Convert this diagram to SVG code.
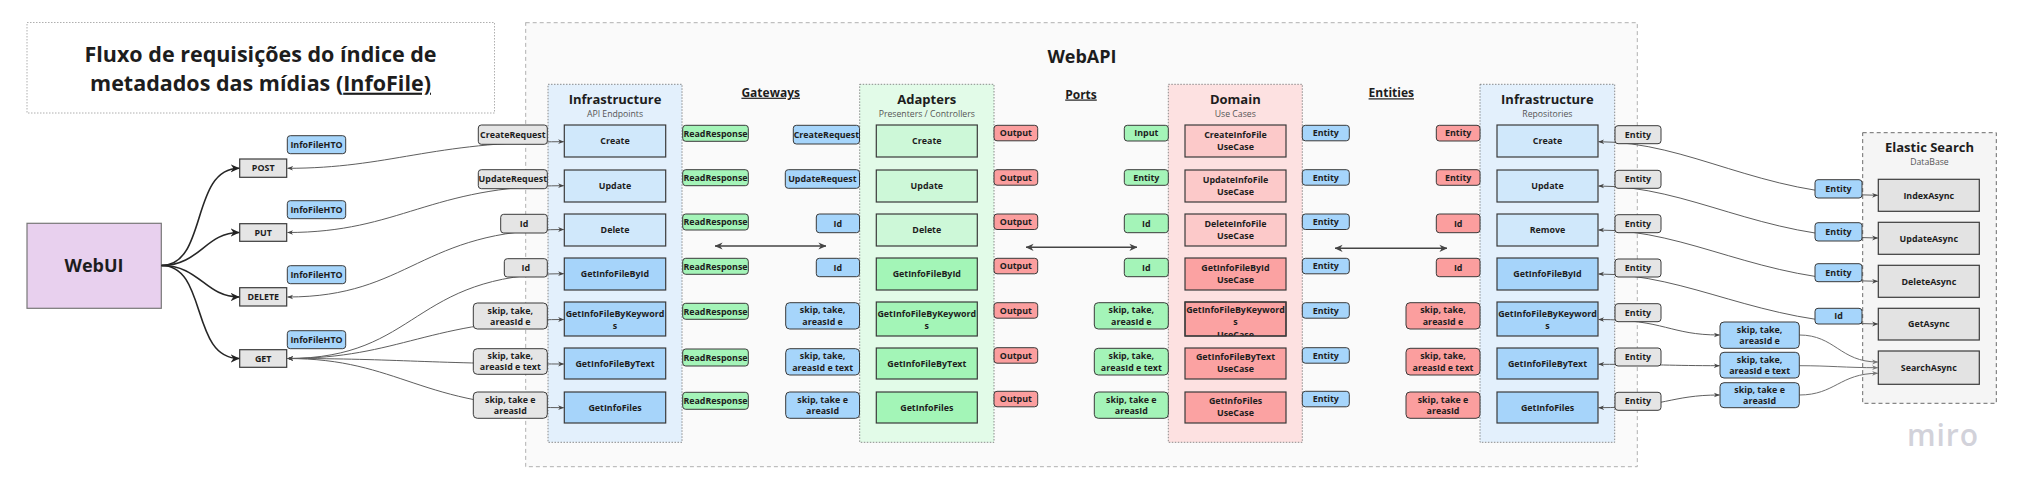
<svg xmlns="http://www.w3.org/2000/svg" width="2022" height="494" viewBox="0 0 2022 494">
<style>
text{font-family:"Open Sans","Noto Sans","Liberation Sans",sans-serif;fill:#1d1d1d}
.t{font-size:8.9px;font-weight:700;text-anchor:middle}
.h{font-size:13px;font-weight:700;text-anchor:middle}
.s{font-size:8.7px;font-weight:400;text-anchor:middle;fill:#555}
.sec{font-size:12px;font-weight:700;text-anchor:middle;text-decoration:underline}
.ttl{font-size:21.5px;font-weight:700;text-anchor:middle}
.cont{stroke:#707070;stroke-width:.8;stroke-dasharray:1.5 1.5}
.box{stroke:#3a3a3a;stroke-width:1.2}
.lb{stroke:#3a3a3a;stroke-width:1}
.gy{fill:#e5e5e5}.bl{fill:#a6d5fb}.gr{fill:#a4f4b8}.rd{fill:#fb9e9e}
.bl1{fill:#d0e8fb}.gr1{fill:#cdf8d8}.rd1{fill:#fcc9c9}
.bl2{fill:#a6d4fa}.gr2{fill:#a3f5b7}.rd2{fill:#fba2a2}
.cn{fill:none;stroke:#5e5e5e;stroke-width:1;marker-start:url(#ah);marker-end:url(#ah)}
.cn1{fill:none;stroke:#6e6e6e;stroke-width:1;marker-end:url(#ah2)}
.dk{fill:none;stroke:#262626;stroke-width:1.6;marker-end:url(#ahd)}
.dbl{fill:none;stroke:#444;stroke-width:1.4;marker-start:url(#ahb);marker-end:url(#ahb)}
</style>
<defs>
<marker id="ah" viewBox="0 0 10 10" refX="9.5" refY="5" markerWidth="6" markerHeight="6" markerUnits="userSpaceOnUse" orient="auto-start-reverse"><path d="M0,1 L10,5 L0,9 L3,5 z" fill="#444"/></marker>
<marker id="ah2" viewBox="0 0 10 10" refX="9.5" refY="5" markerWidth="6" markerHeight="6" markerUnits="userSpaceOnUse" orient="auto-start-reverse"><path d="M0,1 L10,5 L0,9 L3,5 z" fill="#777"/></marker>
<marker id="ahd" viewBox="0 0 10 10" refX="9.5" refY="5" markerWidth="9" markerHeight="9" markerUnits="userSpaceOnUse" orient="auto-start-reverse"><path d="M0,0.5 L10,5 L0,9.5 L3,5 z" fill="#222"/></marker>
<marker id="ahb" viewBox="0 0 10 10" refX="9.5" refY="5" markerWidth="8" markerHeight="8" markerUnits="userSpaceOnUse" orient="auto-start-reverse"><path d="M0,0.5 L10,5 L0,9.5 L3,5 z" fill="#444"/></marker>
<clipPath id="clipKw"><rect x="1185" y="302" width="101" height="34"/></clipPath>
</defs>
<rect width="2022" height="494" fill="#fff"/>

<g id="title">
<rect x="27" y="22.5" width="467.5" height="90.5" fill="#fff" stroke="#9a9a9a" stroke-width=".8" stroke-dasharray="1.5 1.5"/>
<text x="260.5" y="61.7" class="ttl">Fluxo de requisições do índice de</text>
<text x="260.5" y="90.7" class="ttl">metadados das mídias (<tspan text-decoration="underline">InfoFile)</tspan></text>
</g>

<g id="webapi">
<rect x="525.7" y="22.7" width="1111.6" height="444" fill="#fafafa" stroke="#a8a8a8" stroke-width=".9" stroke-dasharray="4 3"/>
<text x="1082" y="63" style="font-size:18px;font-weight:700;text-anchor:middle">WebAPI</text>
<text x="770.7" y="96.7" class="sec">Gateways</text>
<text x="1081" y="98.5" class="sec">Ports</text>
<text x="1391.3" y="97.3" class="sec">Entities</text>
</g>

<g id="webui"><rect x="27" y="223.3" width="134.3" height="85" fill="#e8d0ee" stroke="#777" stroke-width="1.2"/><text x="94" y="272.3" style="font-size:18px;font-weight:700;text-anchor:middle">WebUI</text></g>

<g id="methods">
<g id="post"><rect x="239.7" y="159" width="47" height="18.3" class="box gy"/><text x="263.2" y="171.4" class="t">POST</text></g>
<g id="put"><rect x="239.7" y="223.7" width="47" height="17.6" class="box gy"/><text x="263.2" y="235.7" class="t">PUT</text></g>
<g id="delete"><rect x="239.7" y="287.7" width="47" height="18.3" class="box gy"/><text x="263.2" y="300.1" class="t">DELETE</text></g>
<g id="get"><rect x="239.7" y="349.7" width="47" height="17.6" class="box gy"/><text x="263.2" y="361.7" class="t">GET</text></g>
<g id="hto1"><rect x="287.3" y="135.7" width="58.4" height="18" rx="3" class="lb bl"/><text x="316.5" y="147.9" class="t">InfoFileHTO</text></g>
<g id="hto2"><rect x="287.3" y="200.7" width="58.4" height="18" rx="3" class="lb bl"/><text x="316.5" y="212.9" class="t">InfoFileHTO</text></g>
<g id="hto3"><rect x="287.3" y="265.7" width="58.4" height="18" rx="3" class="lb bl"/><text x="316.5" y="277.9" class="t">InfoFileHTO</text></g>
<g id="hto4"><rect x="287.3" y="330.7" width="58.4" height="18" rx="3" class="lb bl"/><text x="316.5" y="342.9" class="t">InfoFileHTO</text></g>
</g>

<g id="infra-api">
<rect x="548" y="84.3" width="134" height="358" class="cont" fill="#e3f0fc"/>
<text x="615" y="103.7" class="h">Infrastructure</text><text x="615" y="117.3" class="s">API Endpoints</text>
<rect x="564.3" y="125" width="101.4" height="32" class="box bl1"/><text x="615" y="144.2" class="t">Create</text>
<rect x="564.3" y="170" width="101.4" height="32" class="box bl1"/><text x="615" y="189.2" class="t">Update</text>
<rect x="564.3" y="214" width="101.4" height="32" class="box bl1"/><text x="615" y="233.2" class="t">Delete</text>
<rect x="564.3" y="258" width="101.4" height="32" class="box bl2"/><text x="615" y="277.2" class="t">GetInfoFileById</text>
<rect x="564.3" y="302" width="101.4" height="34" class="box bl2"/><text x="615" y="317.3" class="t">GetInfoFileByKeyword</text><text x="615" y="328.5" class="t">s</text>
<rect x="564.3" y="348" width="101.4" height="31" class="box bl2"/><text x="615" y="366.7" class="t">GetInfoFileByText</text>
<rect x="564.3" y="392" width="101.4" height="31" class="box bl2"/><text x="615" y="410.7" class="t">GetInfoFiles</text>
</g>

<g id="adapters">
<rect x="859.7" y="84.3" width="134.3" height="358" class="cont" fill="#e2fbe8"/>
<text x="926.8" y="103.7" class="h">Adapters</text><text x="926.8" y="117.3" class="s">Presenters / Controllers</text>
<rect x="876.3" y="125" width="101" height="32" class="box gr1"/><text x="926.8" y="144.2" class="t">Create</text>
<rect x="876.3" y="170" width="101" height="32" class="box gr1"/><text x="926.8" y="189.2" class="t">Update</text>
<rect x="876.3" y="214" width="101" height="32" class="box gr1"/><text x="926.8" y="233.2" class="t">Delete</text>
<rect x="876.3" y="258" width="101" height="32" class="box gr2"/><text x="926.8" y="277.2" class="t">GetInfoFileById</text>
<rect x="876.3" y="302" width="101" height="34" class="box gr2"/><text x="926.8" y="317.3" class="t">GetInfoFileByKeyword</text><text x="926.8" y="328.5" class="t">s</text>
<rect x="876.3" y="348" width="101" height="31" class="box gr2"/><text x="926.8" y="366.7" class="t">GetInfoFileByText</text>
<rect x="876.3" y="392" width="101" height="31" class="box gr2"/><text x="926.8" y="410.7" class="t">GetInfoFiles</text>
</g>

<g id="domain">
<rect x="1168.3" y="84.3" width="134" height="358" class="cont" fill="#fde1e1"/>
<text x="1235.3" y="103.7" class="h">Domain</text><text x="1235.3" y="117.3" class="s">Use Cases</text>
<rect x="1185" y="125" width="101" height="32" class="box rd1"/><text x="1235.5" y="137.5" class="t">CreateInfoFile</text><text x="1235.5" y="150" class="t">UseCase</text>
<rect x="1185" y="170" width="101" height="32" class="box rd1"/><text x="1235.5" y="182.5" class="t">UpdateInfoFile</text><text x="1235.5" y="195" class="t">UseCase</text>
<rect x="1185" y="214" width="101" height="32" class="box rd1"/><text x="1235.5" y="226.5" class="t">DeleteInfoFile</text><text x="1235.5" y="239" class="t">UseCase</text>
<rect x="1185" y="258" width="101" height="32" class="box rd2"/><text x="1235.5" y="270.5" class="t">GetInfoFileById</text><text x="1235.5" y="283" class="t">UseCase</text>
<rect x="1185" y="302" width="101" height="34" class="box rd2"/>
<g clip-path="url(#clipKw)"><text x="1235.5" y="313.3" class="t">GetInfoFileByKeyword</text><text x="1235.5" y="324.5" class="t">s</text><text x="1235.5" y="337.5" class="t">UseCase</text></g>
<rect x="1185" y="302" width="101" height="34" fill="none" class="box"/>
<rect x="1185" y="348" width="101" height="31" class="box rd2"/><text x="1235.5" y="360" class="t">GetInfoFileByText</text><text x="1235.5" y="372.3" class="t">UseCase</text>
<rect x="1185" y="392" width="101" height="31" class="box rd2"/><text x="1235.5" y="404" class="t">GetInfoFiles</text><text x="1235.5" y="416.3" class="t">UseCase</text>
</g>

<g id="infra-repos">
<rect x="1480" y="84.3" width="134.7" height="358" class="cont" fill="#e3f0fc"/>
<text x="1547.4" y="103.7" class="h">Infrastructure</text><text x="1547.4" y="117.3" class="s">Repositories</text>
<rect x="1497" y="125" width="101" height="32" class="box bl1"/><text x="1547.5" y="144.2" class="t">Create</text>
<rect x="1497" y="170" width="101" height="32" class="box bl1"/><text x="1547.5" y="189.2" class="t">Update</text>
<rect x="1497" y="214" width="101" height="32" class="box bl1"/><text x="1547.5" y="233.2" class="t">Remove</text>
<rect x="1497" y="258" width="101" height="32" class="box bl2"/><text x="1547.5" y="277.2" class="t">GetInfoFileById</text>
<rect x="1497" y="302" width="101" height="34" class="box bl2"/><text x="1547.5" y="317.3" class="t">GetInfoFileByKeyword</text><text x="1547.5" y="328.5" class="t">s</text>
<rect x="1497" y="348" width="101" height="31" class="box bl2"/><text x="1547.5" y="366.7" class="t">GetInfoFileByText</text>
<rect x="1497" y="392" width="101" height="31" class="box bl2"/><text x="1547.5" y="410.7" class="t">GetInfoFiles</text>
</g>

<g id="elastic">
<rect x="1862.7" y="132.7" width="133.6" height="270.6" fill="#f5f5f5" stroke="#6a6a6a" stroke-width="1" stroke-dasharray="4 3"/>
<text x="1929.5" y="151.7" class="h">Elastic Search</text><text x="1929.5" y="165.3" class="s">DataBase</text>
<rect x="1878.3" y="179.3" width="101" height="32" class="box" fill="#e3e3e3"/><text x="1928.8" y="198.5" class="t">IndexAsync</text>
<rect x="1878.3" y="222.3" width="101" height="32" class="box" fill="#e3e3e3"/><text x="1928.8" y="241.5" class="t">UpdateAsync</text>
<rect x="1878.3" y="265.3" width="101" height="32" class="box" fill="#e3e3e3"/><text x="1928.8" y="284.5" class="t">DeleteAsync</text>
<rect x="1878.3" y="308.3" width="101" height="31.7" class="box" fill="#e3e3e3"/><text x="1928.8" y="327.3" class="t">GetAsync</text>
<rect x="1878.3" y="351" width="101" height="33.3" class="box" fill="#e3e3e3"/><text x="1928.8" y="370.8" class="t">SearchAsync</text>
</g>

<g id="connectors">
<path class="dk" d="M161.5,265.5 C208,265.5 190,168.3 239.2,168.3"/>
<path class="dk" d="M161.5,265.5 C200,265.5 205,232.5 239.2,232.5"/>
<path class="dk" d="M161.5,265.5 C200,265.5 205,297 239.2,297"/>
<path class="dk" d="M161.5,265.5 C208,265.5 190,358.5 239.2,358.5"/>
<path class="cn" d="M287.5,168.3 C390,168.3 430,141.7 563.8,141.7"/>
<path class="cn" d="M287.5,232.5 C400,232.5 430,185.7 563.8,185.7"/>
<path class="cn" d="M287.5,297 C410,297 420,229.5 563.8,229.5"/>
<path class="cn" d="M287.5,358.5 C420,358.5 410,273.7 563.8,273.7"/>
<path class="cn" d="M287.5,358.5 C400,358.5 430,319.5 563.8,319.5"/>
<path class="cn" d="M287.5,358.5 C400,358.5 430,364 563.8,364"/>
<path class="cn" d="M287.5,358.5 C400,358.5 420,407.7 563.8,407.7"/>
<path class="dbl" d="M715,246 L826,246"/>
<path class="dbl" d="M1026,247.3 L1137,247.3"/>
<path class="dbl" d="M1335,248.3 L1447,248.3"/>
<path class="cn" d="M1598.5,141.7 C1690,141.7 1760,195.3 1877.8,195.3"/>
<path class="cn" d="M1598.5,186 C1690,186 1760,238 1877.8,238"/>
<path class="cn" d="M1598.5,230 C1690,230 1760,281.3 1877.8,281.3"/>
<path class="cn" d="M1598.5,274 C1690,274 1760,324 1877.8,324"/>
<path class="cn" d="M1598.5,319.5 C1665,319.5 1670,335 1719.5,335"/>
<path class="cn" d="M1598.5,364.3 C1660,364.3 1670,365.7 1719.5,365.7"/>
<path class="cn" d="M1598.5,407.7 C1665,407.7 1670,395 1719.5,395"/>
<path class="cn1" d="M1799.3,335 C1835,335 1840,362 1877.8,362"/>
<path class="cn1" d="M1799.3,365.7 C1830,365.7 1845,367.7 1877.8,367.7"/>
<path class="cn1" d="M1799.3,395 C1835,395 1840,373.3 1877.8,373.3"/>
</g>

<g id="labels-requests">
<rect x="478.3" y="125" width="69" height="19.3" rx="3" class="lb gy"/><text x="512.8" y="137.9" class="t">CreateRequest</text>
<rect x="478.3" y="169.7" width="69" height="19" rx="3" class="lb gy"/><text x="512.8" y="182.4" class="t">UpdateRequest</text>
<rect x="500.7" y="214.3" width="46.6" height="18.7" rx="3" class="lb gy"/><text x="524" y="226.9" class="t">Id</text>
<rect x="504.3" y="258.7" width="43" height="18.3" rx="3" class="lb gy"/><text x="525.8" y="271" class="t">Id</text>
<rect x="473.3" y="303" width="74" height="26" rx="4" class="lb gy"/><text x="510.3" y="313.6" class="t">skip, take,</text><text x="510.3" y="324.9" class="t">areasId e</text>
<rect x="473.3" y="348.7" width="74" height="25.6" rx="4" class="lb gy"/><text x="510.3" y="359.1" class="t">skip, take,</text><text x="510.3" y="370.4" class="t">areasId e text</text>
<rect x="473.3" y="392" width="74" height="26.3" rx="4" class="lb gy"/><text x="510.3" y="402.8" class="t">skip, take e</text><text x="510.3" y="414.1" class="t">areasId</text>
</g>

<g id="labels-readresponse">
<rect x="682.7" y="125.3" width="65.6" height="16" rx="3" class="lb gr"/><text x="715.5" y="136.5" class="t">ReadResponse</text>
<rect x="682.7" y="169.7" width="65.6" height="16" rx="3" class="lb gr"/><text x="715.5" y="180.9" class="t">ReadResponse</text>
<rect x="682.7" y="214" width="65.6" height="16" rx="3" class="lb gr"/><text x="715.5" y="225.2" class="t">ReadResponse</text>
<rect x="682.7" y="258.3" width="65.6" height="16" rx="3" class="lb gr"/><text x="715.5" y="269.5" class="t">ReadResponse</text>
<rect x="682.7" y="303.3" width="65.6" height="16" rx="3" class="lb gr"/><text x="715.5" y="314.5" class="t">ReadResponse</text>
<rect x="682.7" y="349" width="65.6" height="17" rx="3" class="lb gr"/><text x="715.5" y="360.7" class="t">ReadResponse</text>
<rect x="682.7" y="392.3" width="65.6" height="17" rx="3" class="lb gr"/><text x="715.5" y="404" class="t">ReadResponse</text>
</g>

<g id="labels-adapters-in">
<rect x="793.3" y="125.3" width="66.2" height="18.7" rx="3" class="lb bl"/><text x="826.4" y="137.9" class="t">CreateRequest</text>
<rect x="785.3" y="169.7" width="74.2" height="18.6" rx="3" class="lb bl"/><text x="822.4" y="182.2" class="t">UpdateRequest</text>
<rect x="816.3" y="214" width="43.2" height="18.7" rx="3" class="lb bl"/><text x="837.9" y="226.6" class="t">Id</text>
<rect x="816.3" y="258.3" width="43.2" height="18.4" rx="3" class="lb bl"/><text x="837.9" y="270.7" class="t">Id</text>
<rect x="785.7" y="302.7" width="73.8" height="26.3" rx="4" class="lb bl"/><text x="822.6" y="313.4" class="t">skip, take,</text><text x="822.6" y="324.7" class="t">areasId e</text>
<rect x="785.7" y="348.7" width="73.8" height="26.3" rx="4" class="lb bl"/><text x="822.6" y="359.4" class="t">skip, take,</text><text x="822.6" y="370.7" class="t">areasId e text</text>
<rect x="785.7" y="392" width="73.8" height="26.3" rx="4" class="lb bl"/><text x="822.6" y="402.7" class="t">skip, take e</text><text x="822.6" y="414" class="t">areasId</text>
</g>

<g id="labels-output">
<rect x="994" y="125.3" width="43.7" height="15.5" rx="3" class="lb rd"/><text x="1015.9" y="136.3" class="t">Output</text>
<rect x="994" y="169.7" width="43.7" height="15.5" rx="3" class="lb rd"/><text x="1015.9" y="180.7" class="t">Output</text>
<rect x="994" y="214" width="43.7" height="15.5" rx="3" class="lb rd"/><text x="1015.9" y="225" class="t">Output</text>
<rect x="994" y="258.3" width="43.7" height="15.5" rx="3" class="lb rd"/><text x="1015.9" y="269.3" class="t">Output</text>
<rect x="994" y="302.7" width="43.7" height="15.5" rx="3" class="lb rd"/><text x="1015.9" y="313.7" class="t">Output</text>
<rect x="994" y="347.7" width="43.7" height="15.5" rx="3" class="lb rd"/><text x="1015.9" y="358.7" class="t">Output</text>
<rect x="994" y="391.3" width="43.7" height="15.5" rx="3" class="lb rd"/><text x="1015.9" y="402.3" class="t">Output</text>
</g>

<g id="labels-domain-in">
<rect x="1124.3" y="125.3" width="44" height="15.7" rx="3" class="lb gr"/><text x="1146.3" y="136.4" class="t">Input</text>
<rect x="1124.3" y="169.7" width="44" height="15.6" rx="3" class="lb gr"/><text x="1146.3" y="180.7" class="t">Entity</text>
<rect x="1124.3" y="214" width="44" height="18.7" rx="3" class="lb gr"/><text x="1146.3" y="226.6" class="t">Id</text>
<rect x="1124.3" y="258.3" width="44" height="18.4" rx="3" class="lb gr"/><text x="1146.3" y="270.7" class="t">Id</text>
<rect x="1094.3" y="302.7" width="74" height="26.3" rx="4" class="lb gr"/><text x="1131.3" y="313.4" class="t">skip, take,</text><text x="1131.3" y="324.7" class="t">areasId e</text>
<rect x="1094.3" y="348.3" width="74" height="26.7" rx="4" class="lb gr"/><text x="1131.3" y="359.2" class="t">skip, take,</text><text x="1131.3" y="370.5" class="t">areasId e text</text>
<rect x="1094.3" y="392" width="74" height="26.3" rx="4" class="lb gr"/><text x="1131.3" y="402.7" class="t">skip, take e</text><text x="1131.3" y="414" class="t">areasId</text>
</g>

<g id="labels-domain-out">
<rect x="1302.3" y="125.3" width="47" height="15.5" rx="3" class="lb bl"/><text x="1325.8" y="136.3" class="t">Entity</text>
<rect x="1302.3" y="169.7" width="47" height="15.5" rx="3" class="lb bl"/><text x="1325.8" y="180.7" class="t">Entity</text>
<rect x="1302.3" y="214" width="47" height="15.5" rx="3" class="lb bl"/><text x="1325.8" y="225" class="t">Entity</text>
<rect x="1302.3" y="258.3" width="47" height="15.5" rx="3" class="lb bl"/><text x="1325.8" y="269.3" class="t">Entity</text>
<rect x="1302.3" y="302.7" width="47" height="15.5" rx="3" class="lb bl"/><text x="1325.8" y="313.7" class="t">Entity</text>
<rect x="1302.3" y="347.7" width="47" height="15.5" rx="3" class="lb bl"/><text x="1325.8" y="358.7" class="t">Entity</text>
<rect x="1302.3" y="391.3" width="47" height="15.5" rx="3" class="lb bl"/><text x="1325.8" y="402.3" class="t">Entity</text>
</g>

<g id="labels-repos-in">
<rect x="1436.3" y="125.3" width="43.7" height="15.7" rx="3" class="lb rd"/><text x="1458.2" y="136.4" class="t">Entity</text>
<rect x="1436.3" y="169.7" width="43.7" height="15.6" rx="3" class="lb rd"/><text x="1458.2" y="180.7" class="t">Entity</text>
<rect x="1436.3" y="214" width="43.7" height="18.7" rx="3" class="lb rd"/><text x="1458.2" y="226.6" class="t">Id</text>
<rect x="1436.3" y="258.3" width="43.7" height="18.4" rx="3" class="lb rd"/><text x="1458.2" y="270.7" class="t">Id</text>
<rect x="1406" y="302.7" width="74" height="26.3" rx="4" class="lb rd"/><text x="1443" y="313.4" class="t">skip, take,</text><text x="1443" y="324.7" class="t">areasId e</text>
<rect x="1406" y="348.3" width="74" height="26.7" rx="4" class="lb rd"/><text x="1443" y="359.2" class="t">skip, take,</text><text x="1443" y="370.5" class="t">areasId e text</text>
<rect x="1406" y="392" width="74" height="26.3" rx="4" class="lb rd"/><text x="1443" y="402.7" class="t">skip, take e</text><text x="1443" y="414" class="t">areasId</text>
</g>

<g id="labels-repos-out">
<rect x="1615" y="125.7" width="46" height="18" rx="3" class="lb gy"/><text x="1638" y="137.5" class="t">Entity</text>
<rect x="1615" y="170.3" width="46" height="18" rx="3" class="lb gy"/><text x="1638" y="182.1" class="t">Entity</text>
<rect x="1615" y="214.7" width="46" height="18" rx="3" class="lb gy"/><text x="1638" y="226.5" class="t">Entity</text>
<rect x="1615" y="259" width="46" height="18" rx="3" class="lb gy"/><text x="1638" y="270.8" class="t">Entity</text>
<rect x="1615" y="303.7" width="46" height="18" rx="3" class="lb gy"/><text x="1638" y="315.5" class="t">Entity</text>
<rect x="1615" y="348" width="46" height="18" rx="3" class="lb gy"/><text x="1638" y="359.8" class="t">Entity</text>
<rect x="1615" y="392.3" width="46" height="18" rx="3" class="lb gy"/><text x="1638" y="404.1" class="t">Entity</text>
</g>

<g id="labels-elastic">
<rect x="1815" y="179.7" width="47" height="18.3" rx="3" class="lb bl"/><text x="1838.5" y="192" class="t">Entity</text>
<rect x="1815" y="222.7" width="47" height="18.3" rx="3" class="lb bl"/><text x="1838.5" y="235" class="t">Entity</text>
<rect x="1815" y="263.7" width="47" height="18" rx="3" class="lb bl"/><text x="1838.5" y="275.9" class="t">Entity</text>
<rect x="1815" y="308.3" width="47" height="15.7" rx="3" class="lb bl"/><text x="1838.5" y="319.4" class="t">Id</text>
</g>

<g id="search-params">
<g id="sp1"><rect x="1720" y="322" width="79.3" height="26.3" rx="4" class="lb bl"/><text x="1759.6" y="332.8" class="t">skip, take,</text><text x="1759.6" y="344.1" class="t">areasId e</text></g>
<g id="sp2"><rect x="1720" y="352.3" width="79.3" height="25.7" rx="4" class="lb bl"/><text x="1759.6" y="362.8" class="t">skip, take,</text><text x="1759.6" y="374.1" class="t">areasId e text</text></g>
<g id="sp3"><rect x="1720" y="382.7" width="79.3" height="25" rx="4" class="lb bl"/><text x="1759.6" y="393" class="t">skip, take e</text><text x="1759.6" y="404.3" class="t">areasId</text></g>
</g>

<text x="1943" y="445.7" style="font-size:30px;font-weight:600;text-anchor:middle;fill:#d2d2da;letter-spacing:1px">miro</text>
</svg>
